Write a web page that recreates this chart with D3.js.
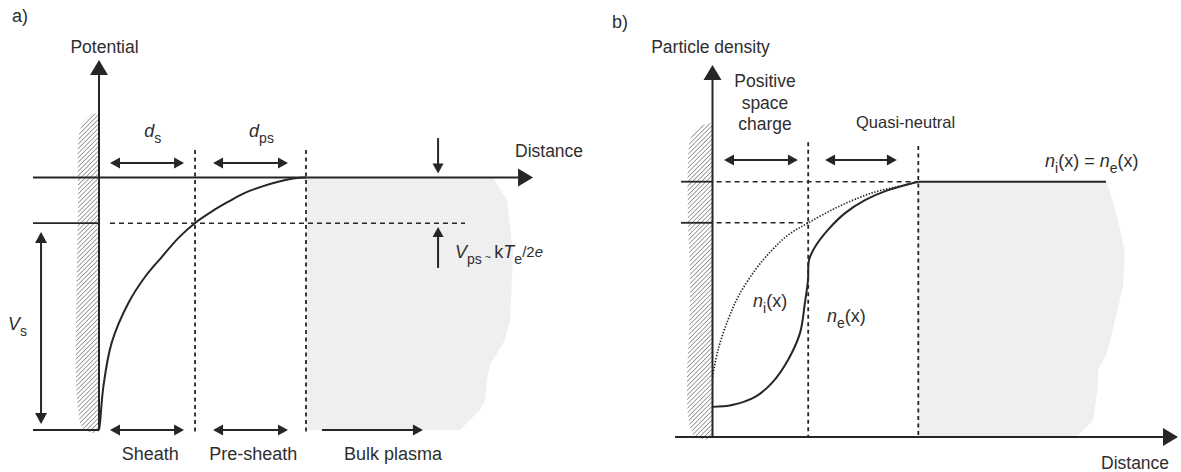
<!DOCTYPE html>
<html>
<head>
<meta charset="utf-8">
<script src="https://cdn.jsdelivr.net/npm/d3@7"></script>
<style>
  body { margin: 0; background: #fff; }
  svg text { font-family: "Liberation Sans", Arial, Helvetica, sans-serif; fill: #2e2e2e; }
</style>
</head>
<body>
<svg id="chart" width="1181" height="472"></svg>
<script>
// ---- Panel a: potential vs distance (distance units: wall = 0, pre-sheath edge = 10;
// potential normalised: wall = -1, bulk plasma = 0)
const sheathEdge = 4.64;
const presheathEdge = 10;
const vPs = -0.181;
const potentialDist = [0, 0.05, 0.21, 0.61, 1.42, 2.22, 3.03, 3.83, 4.64, 5.44, 6.25, 7.05, 7.86, 8.66, 9.47, 10];
const potentialVal = [-1, -0.97, -0.829, -0.655, -0.497, -0.394, -0.315, -0.240, -0.180, -0.135, -0.096, -0.061, -0.036, -0.017, -0.003, 0];
const wallADist = [0, -0.34, -0.68, -0.92, -1.01, -1.01, -1.06, -1.11, -1.11, -1.01, -0.87, -0.63, 0];
const wallAVal = [0.251, 0.248, 0.228, 0.188, 0.129, -0.089, -0.327, -0.604, -0.802, -0.921, -0.98, -1.004, -1.004];
const plasmaADist = [10, 19.03, 19.71, 20, 19.86, 19.61, 18.89, 18.74, 18.65, 18.41, 17.44, 10];
const plasmaAVal = [0, 0, -0.089, -0.30, -0.564, -0.644, -0.743, -0.802, -0.881, -0.921, -1, -1];
const regionLabelsA = ['Sheath', 'Pre-sheath', 'Bulk plasma'];

// ---- Panel b: particle density vs distance (density normalised to bulk value)
const spaceChargeEdge = 4.65;
const quasiEdge = 10;
const nSheathEdge = 0.839;
const niDist = [0, 0.27, 0.75, 1.24, 2.07, 2.89, 3.67, 4.64, 6.09, 7.75, 9.35, 10];
const niVal = [0.235, 0.341, 0.458, 0.548, 0.654, 0.732, 0.791, 0.838, 0.901, 0.956, 0.987, 1];
const neDist = [0, 0.95, 2.07, 2.89, 3.67, 4.25, 4.49, 4.64, 4.69, 4.98, 5.61, 6.44, 7.41, 8.53, 10];
const neVal = [0.118, 0.125, 0.157, 0.212, 0.302, 0.407, 0.525, 0.615, 0.693, 0.744, 0.811, 0.877, 0.928, 0.967, 1];
const bulkEnd = 19.12;
const wallBDist = [0, -0.46, -0.85, -1.09, -1.19, -1.19, -1.09, -1.14, -1.24, -1.19, -1.04, -0.8, 0];
const wallBVal = [1.226, 1.222, 1.203, 1.163, 1.085, 0.85, 0.615, 0.419, 0.223, 0.086, 0.027, 0, 0];
const plasmaBDist = [10, 19.17, 19.7, 20.04, 19.95, 19.56, 19.17, 18.73, 18.73, 18.49, 17.71, 10];
const plasmaBVal = [1, 1, 0.85, 0.721, 0.588, 0.458, 0.329, 0.262, 0.196, 0.067, 0, 0];
const regionLabelsB = ['Positive', 'space', 'charge'];

const INK = '#262626';
const svg = d3.select('#chart');
const defs = svg.append('defs');

// hatch pattern for the wall
const pat = defs.append('pattern')
  .attr('id', 'hatch')
  .attr('patternUnits', 'userSpaceOnUse')
  .attr('width', 3.2).attr('height', 3.2)
  .attr('patternTransform', 'rotate(45)');
pat.append('line')
  .attr('x1', 0).attr('y1', 0).attr('x2', 0).attr('y2', 3.2)
  .attr('stroke', '#555').attr('stroke-width', 1.1);

const zip = (xs, ys) => xs.map((d, i) => [d, ys[i]]);
const pathOf = (xs, ys, curve) => d3.line().x((d) => xs(d[0])).y((d) => ys(d[1])).curve(curve);

/**
 * Filled triangular head with its tip at (tx, ty), pointing along angle.
 */
function head(g, tx, ty, angle, len, wid) {
  const bx = tx - len * Math.cos(angle);
  const by = ty - len * Math.sin(angle);
  const px = -Math.sin(angle) * wid / 2;
  const py = Math.cos(angle) * wid / 2;
  g.append('path')
    .attr('d', `M${tx},${ty}L${bx + px},${by + py}L${bx - px},${by - py}Z`)
    .attr('fill', INK);
}

/**
 * Straight arrow from (x1,y1) to (x2,y2). both = head at both ends.
 */
function arrow(g, x1, y1, x2, y2, both, len = 10, wid = 11, sw = 2) {
  const a = Math.atan2(y2 - y1, x2 - x1);
  const s = both ? len - 1 : 0;
  g.append('line')
    .attr('x1', x1 + s * Math.cos(a)).attr('y1', y1 + s * Math.sin(a))
    .attr('x2', x2 - (len - 1) * Math.cos(a)).attr('y2', y2 - (len - 1) * Math.sin(a))
    .attr('stroke', INK).attr('stroke-width', sw);
  head(g, x2, y2, a, len, wid);
  if (both) head(g, x1, y1, a + Math.PI, len, wid);
}

function line(g, x1, y1, x2, y2, dash, sw = 1.6) {
  g.append('line')
    .attr('x1', x1).attr('y1', y1).attr('x2', x2).attr('y2', y2)
    .attr('stroke', INK).attr('stroke-width', sw)
    .attr('stroke-dasharray', dash || null);
}

/**
 * Text built from parts: [text, {i: italic, shift: baseline offset px, size}].
 */
function rich(g, x, y, parts, size = 17.5, anchor = 'start') {
  const t = g.append('text').attr('x', x).attr('y', y)
    .attr('font-size', size).attr('text-anchor', anchor);
  let cur = 0;
  parts.forEach(([s, o = {}]) => {
    const shift = o.shift || 0;
    const ts = t.append('tspan').text(s);
    if (shift !== cur) ts.attr('dy', shift - cur);
    cur = shift;
    if (o.i) ts.attr('font-style', 'italic');
    if (o.size) ts.attr('font-size', o.size);
  });
  return t;
}
const SUB = (s, size = 14) => [s, { shift: 6, size }];

/**
 * Hatched wall, clipped so it never crosses the axis line.
 */
function wall(g, id, xs, ys, dists, vals) {
  const x0 = xs(d3.min(dists)) - 10;
  defs.append('clipPath').attr('id', id).append('rect')
    .attr('x', x0).attr('y', 0)
    .attr('width', xs(0) - x0).attr('height', 472);
  g.append('path')
    .attr('d', pathOf(xs, ys, d3.curveCatmullRomClosed)(zip(dists, vals)))
    .attr('fill', 'url(#hatch)')
    .attr('clip-path', `url(#${id})`);
}

// ================= Panel a =================
const xA = d3.scaleLinear().domain([0, 10]).range([99, 306]);
const yA = d3.scaleLinear().domain([-1, 0]).range([430, 177.5]);
const gA = svg.append('g');

gA.append('path')
  .attr('d', pathOf(xA, yA, d3.curveLinearClosed)(zip(plasmaADist, plasmaAVal)))
  .attr('fill', '#efefef');
wall(gA, 'clipA', xA, yA, wallADist, wallAVal);

// reference levels
line(gA, xA(-3.19), yA(0), xA(20.3), yA(0), null, 2);
head(gA, xA(20.97), yA(0), 0, 15, 18);
line(gA, xA(-3.19), yA(vPs), xA(0), yA(vPs), null, 1.8);
line(gA, xA(0.53), yA(vPs), xA(17.68), yA(vPs), '5,4', 1.6);
line(gA, xA(-3.19), yA(-1), xA(0), yA(-1), null, 1.8);
// potential axis
line(gA, xA(0), yA(-1), xA(0), yA(0.44), null, 2);
head(gA, xA(0), yA(0.465), -Math.PI / 2, 15, 18);
// region boundaries
[sheathEdge, presheathEdge].forEach((d) => {
  line(gA, xA(d), yA(0.109), xA(d), yA(-1.02), '4,3.5', 1.8);
});

// potential curve
gA.append('path')
  .attr('d', pathOf(xA, yA, d3.curveCatmullRom.alpha(0.5))(zip(potentialDist, potentialVal)))
  .attr('fill', 'none').attr('stroke', INK).attr('stroke-width', 2);

// widths
arrow(gA, xA(0.53), yA(0.057), xA(4.11), yA(0.057), true);
arrow(gA, xA(5.51), yA(0.057), xA(9.13), yA(0.057), true);
rich(gA, xA(2.6), yA(0.16), [['d', { i: true }], SUB('s')], 18, 'middle');
rich(gA, xA(7.85), yA(0.16), [['d', { i: true }], SUB('ps')], 18, 'middle');

// V_ps markers
arrow(gA, xA(16.38), yA(0.156), xA(16.38), yA(0.016), false, 10, 11);
arrow(gA, xA(16.38), yA(-0.358), xA(16.38), yA(-0.196), false, 10, 11);
rich(gA, 455, yA(-0.32), [
  ['V', { i: true }], SUB('ps'), [' ~ ', { shift: 3, size: 11 }],
  ['k'], ['T', { i: true }], SUB('e'), ['/2', { shift: -1, size: 15 }], ['e', { i: true, shift: -1, size: 15 }],
], 18);

// V_s
arrow(gA, xA(-2.80), yA(-0.216), xA(-2.80), yA(-0.976), true, 11, 12);
rich(gA, 8, 330, [['V', { i: true }], SUB('s')], 18);

// region arrows along the bottom
arrow(gA, xA(0.53), yA(-1), xA(4.11), yA(-1), true);
arrow(gA, xA(5.51), yA(-1), xA(9.13), yA(-1), true);
arrow(gA, xA(10.77), yA(-1), xA(15.65), yA(-1), false);
[2.48, 7.45, 14.2].forEach((d, i) => {
  gA.append('text').attr('x', xA(d)).attr('y', 460)
    .attr('font-size', 18).attr('text-anchor', 'middle').text(regionLabelsA[i]);
});

gA.append('text').attr('x', 12).attr('y', 22).attr('font-size', 18).text('a)');
gA.append('text').attr('x', 104.5).attr('y', 52.5).attr('font-size', 17.5)
  .attr('text-anchor', 'middle').text('Potential');
gA.append('text').attr('x', 515).attr('y', 157).attr('font-size', 17.5).text('Distance');

// ================= Panel b =================
const xB = d3.scaleLinear().domain([0, 10]).range([712.5, 918.3]);
const yB = d3.scaleLinear().domain([0, 1]).range([437, 181.7]);
const gB = svg.append('g');

gB.append('path')
  .attr('d', pathOf(xB, yB, d3.curveLinearClosed)(zip(plasmaBDist, plasmaBVal)))
  .attr('fill', '#efefef');
wall(gB, 'clipB', xB, yB, wallBDist, wallBVal);

// reference levels
line(gB, xB(-1.53), yB(1), xB(0), yB(1), null, 1.8);
line(gB, xB(0.2), yB(1), xB(quasiEdge), yB(1), '5,4', 1.6);
line(gB, xB(-1.53), yB(nSheathEdge), xB(0), yB(nSheathEdge), null, 1.8);
line(gB, xB(0.2), yB(nSheathEdge), xB(spaceChargeEdge), yB(nSheathEdge), '5,4', 1.6);
line(gB, xB(quasiEdge), yB(1), xB(bulkEnd), yB(1), null, 2);
[[spaceChargeEdge, 1.155], [quasiEdge, 1.14]].forEach(([d, top]) => {
  line(gB, xB(d), yB(top), xB(d), yB(0), '4,3.5', 1.8);
});

// axes
line(gB, xB(0), yB(0), xB(0), yB(1.43), null, 2);
head(gB, xB(0), yB(1.457), -Math.PI / 2, 15, 18);
line(gB, xB(-1.82), yB(0), xB(21.9), yB(0), null, 2);
head(gB, xB(22.62), yB(0), 0, 15, 18);

// density curves
gB.append('path')
  .attr('d', pathOf(xB, yB, d3.curveCatmullRom.alpha(0.5))(zip(niDist, niVal)))
  .attr('fill', 'none').attr('stroke', INK).attr('stroke-width', 1.7)
  .attr('stroke-dasharray', '1.4,1.6');
gB.append('path')
  .attr('d', pathOf(xB, yB, d3.curveCatmullRom.alpha(0.5))(zip(neDist, neVal)))
  .attr('fill', 'none').attr('stroke', INK).attr('stroke-width', 2);

arrow(gB, xB(0.56), yB(1.085), xB(4.15), yB(1.085), true);
arrow(gB, xB(5.47), yB(1.085), xB(8.96), yB(1.085), true);

regionLabelsB.forEach((s, i) => {
  gB.append('text').attr('x', 765).attr('y', 87 + i * 21.5)
    .attr('font-size', 17.5).attr('text-anchor', 'middle').text(s);
});
gB.append('text').attr('x', 856).attr('y', 128).attr('font-size', 16.5).text('Quasi-neutral');

rich(gB, 1045, 167, [['n', { i: true }], SUB('i'), ['(x) = '], ['n', { i: true }], SUB('e'), ['(x)']], 18);
rich(gB, 753, 307, [['n', { i: true }], SUB('i'), ['(x)']], 18);
rich(gB, 827, 322, [['n', { i: true }], SUB('e'), ['(x)']], 18);

gB.append('text').attr('x', 612).attr('y', 28).attr('font-size', 18).text('b)');
gB.append('text').attr('x', 710.5).attr('y', 52.5).attr('font-size', 17.5)
  .attr('text-anchor', 'middle').text('Particle density');
gB.append('text').attr('x', 1101).attr('y', 469).attr('font-size', 17.5).text('Distance');
</script>
</body>
</html>
